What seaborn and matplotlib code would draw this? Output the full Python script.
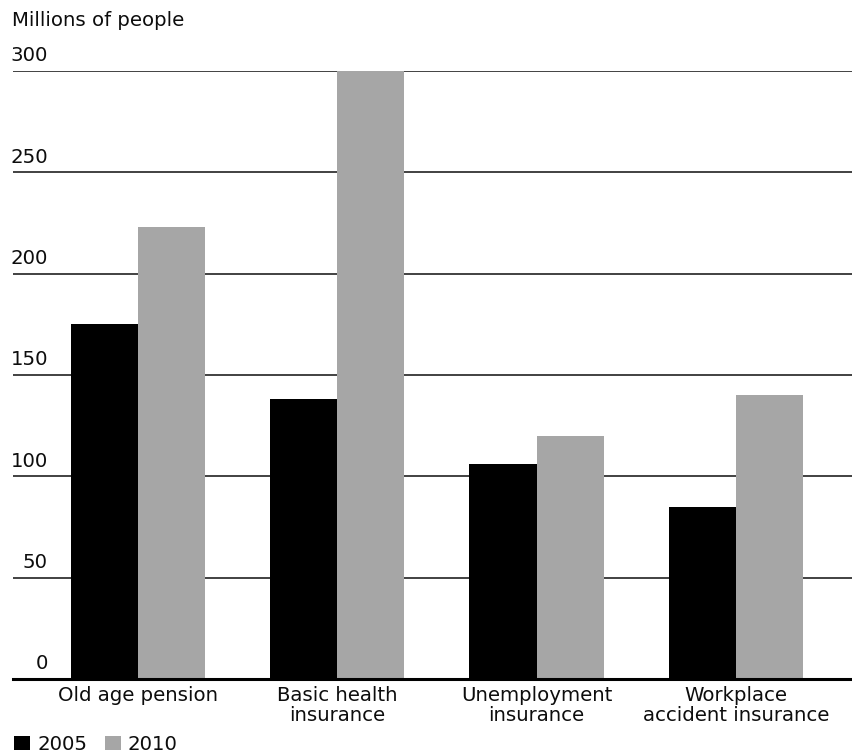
import matplotlib
matplotlib.use("Agg")
import matplotlib.pyplot as plt
import matplotlib.transforms as mtransforms
import pandas as pd
import seaborn as sns

categories = ["Old age pension", "Basic health\ninsurance",
              "Unemployment\ninsurance", "Workplace\naccident insurance"]
years = ["2005", "2010"]
values_2005 = [175, 138, 106, 85]
values_2010 = [223, 300, 120, 140]
y_ticks = [0, 50, 100, 150, 200, 250, 300]

df = pd.DataFrame({
    "category": categories * 2,
    "year": [years[0]] * 4 + [years[1]] * 4,
    "value": values_2005 + values_2010,
})

sns.set_theme(style="white")
plt.rcParams["font.family"] = ["DejaVu Sans"]

FS = 14.2
TXT = "#0d0d0d"

W, H = 853, 754
fig = plt.figure(figsize=(W / 100, H / 100), dpi=100)
ax = fig.add_axes([13 / W, (H - 679) / H, 1 - 13 / W, (679 - 71) / H])

sns.barplot(data=df, x="category", y="value", hue="year",
            palette={"2005": "#000000", "2010": "#a6a6a6"},
            width=0.673, saturation=1, linewidth=0, ax=ax, legend=True, zorder=3)

ax.set_xlim(-0.627, 3.588)
ax.set_ylim(0, 300)
ax.set_xlabel("")
ax.set_ylabel("")
for s in ["top", "right", "left"]:
    ax.spines[s].set_visible(False)
ax.spines["bottom"].set_color("#000000")
ax.spines["bottom"].set_linewidth(2.2)
ax.spines["bottom"].set_zorder(4)

ax.set_yticks(y_ticks)
ax.set_yticklabels([])
ax.tick_params(axis="y", length=0)
ax.tick_params(axis="x", length=0, pad=5, labelsize=FS, labelcolor=TXT)
for lbl in ax.get_xticklabels():
    lbl.set_linespacing(1.08)
ax.yaxis.grid(True, color="#333333", linewidth=1.3)
ax.set_axisbelow(True)

# value labels sit just above each gridline, right-aligned near the left edge
label_tf = mtransforms.offset_copy(ax.get_yaxis_transform(), fig=fig,
                                   x=35 / 100 * 72, y=4, units="points")
for t in y_ticks:
    ax.text(0, t, str(t), transform=label_tf, ha="right", va="bottom",
            fontsize=FS, color=TXT)

fig.text(12 / W, 1 - 21 / H, "Millions of people", ha="left", va="center",
         fontsize=FS, color=TXT)

handles, labels = ax.get_legend_handles_labels()
ax.get_legend().remove()
leg = fig.legend(handles, labels, loc="lower left",
                 bbox_to_anchor=(12 / W, -2 / H), ncol=2, frameon=False,
                 fontsize=FS, handlelength=0.82, handleheight=0.74,
                 handletextpad=0.35, columnspacing=0.9,
                 borderaxespad=0.0, borderpad=0.1)
for t in leg.get_texts():
    t.set_color(TXT)

fig.savefig("out.png", dpi=100)
